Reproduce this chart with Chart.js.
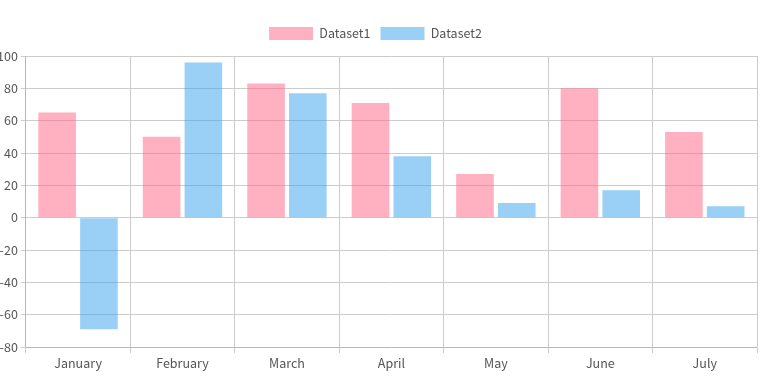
<!DOCTYPE html>
<html>
<head>
<meta charset="utf-8">
<script src="https://cdn.jsdelivr.net/npm/chart.js@4"></script>
<style>
  html, body { margin: 0; padding: 0; background: #fff; overflow: hidden; }
  #wrap { position: relative; width: 762px; height: 377px; overflow: hidden; }
  #wrap canvas { position: absolute; left: -6px; top: 0; }
</style>
</head>
<body>
<div id="wrap"><canvas id="myChart" width="768" height="377"></canvas></div>
<script>
const months = ['January', 'February', 'March', 'April', 'May', 'June', 'July'];
const dataset1 = [65, 50, 83, 71, 27, 80, 53];
const dataset2 = [-69, 96, 77, 38, 9, 17, 7];

Chart.defaults.font.family = '"Noto Sans CJK JP", "Noto Sans", sans-serif';
Chart.defaults.font.size = 12.5;
Chart.defaults.color = '#555';

const ctx = document.getElementById('myChart').getContext('2d');

// a bit more room under the legend
const legendGap = {
    id: 'legendGap',
    beforeInit(chart) {
        const fit = chart.legend.fit;
        chart.legend.fit = function() {
            fit.bind(chart.legend)();
            this.height += 6;
        };
    }
};

const data = {
    labels: months,
    datasets: [
        {
            label: 'Dataset1',
            data: dataset1,
            // pink
            backgroundColor: 'rgba(255, 99, 132, 0.5)',
        },
        {
            label: 'Dataset2',
            data: dataset2,
            // blue
            backgroundColor: 'rgba(54, 162, 235, 0.5)',
        }
    ]
};

const config = {
    type: 'bar',
    data: data,
    plugins: [legendGap],
    options: {
        responsive: false,
        animation: false,
        layout: {
            padding: { top: 17, right: 5, bottom: 3 }
        },
        plugins: {
            legend: {
                position: 'top',
                labels: { boxWidth: 44, boxHeight: 13 }
            },
            tooltip: { enabled: false }
        },
        scales: {
            x: {
                grid: { color: '#ccc', offset: true, tickLength: 6 }
            },
            y: {
                min: -80,
                max: 100,
                ticks: { stepSize: 20, padding: 3 },
                grid: { color: '#ccc', tickLength: 5 }
            }
        }
    },
};

const myChart = new Chart(ctx, config);
</script>
</body>
</html>
